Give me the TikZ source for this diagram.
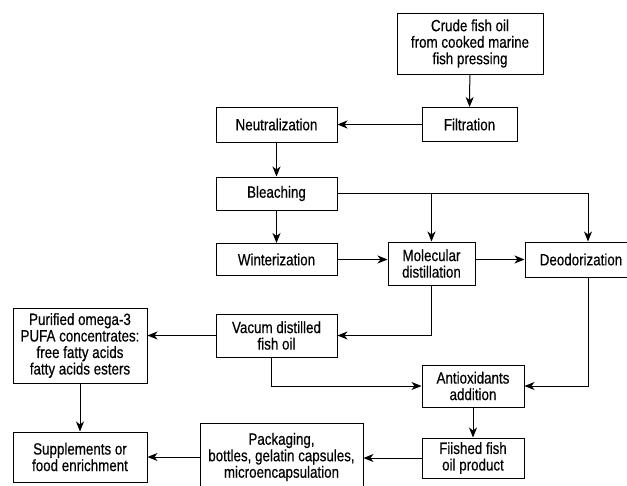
\documentclass[tikz,border=0pt]{standalone}
\usepackage{fontspec}
\setmainfont[FakeStretch=0.82,FakeBold=0.4]{Liberation Sans}
\usetikzlibrary{arrows.meta,positioning}

\begin{document}
\begin{tikzpicture}[
  x=1pt,y=-1pt,
  line width=1pt,
  >={Stealth[length=10pt,width=8pt,inset=3pt]},
  mybox/.style={
    draw,
    rectangle,
    align=center,
    inner sep=1pt,
    font=\fontsize{16.3}{16.5}\selectfont
    }
]
\useasboundingbox (0,0) rectangle (627,485);

\node[mybox,minimum width=146pt,minimum height=61pt] (crude) at (470,43.5)
  {Crude fish oil\\from cooked marine\\fish pressing};
\node[mybox,minimum width=95pt,minimum height=34pt] (filt) at (469.5,124.5) {Filtration};
\node[mybox,minimum width=121pt,minimum height=35pt] (neut) at (276.5,124.5) {Neutralization};
\node[mybox,minimum width=121pt,minimum height=33pt] (bleach) at (276.5,193.5) {Bleaching};
\node[mybox,minimum width=121pt,minimum height=32pt] (winter) at (276.5,259.5) {Winterization};
\node[mybox,minimum width=87pt,minimum height=43pt] (molec) at (431.5,263.5) {Molecular\\distillation};
\node[mybox,minimum width=112pt,minimum height=35pt] (deodor) at (581,259.5) {Deodorization};
\node[mybox,minimum width=121pt,minimum height=43pt] (vacum) at (276.5,335.5) {Vacum distilled\\fish oil};
\node[mybox,minimum width=134pt,minimum height=75pt] (purif) at (80,345.5)
  {Purified omega-3\\PUFA concentrates:\\free fatty acids\\fatty acids esters};
\node[mybox,minimum width=134pt,minimum height=50pt] (suppl) at (80,457) {Supplements or\\food enrichment};
\node[mybox,minimum width=102pt,minimum height=42pt] (antiox) at (473,386) {Antioxidants\\addition};
\node[mybox,minimum width=102pt,minimum height=40pt] (fiished) at (473,458) {Fiished fish\\oil product};
\node[mybox,minimum width=163pt,minimum height=68pt] (pack) at (281.5,457)
  {Packaging,\\bottles, gelatin capsules,\\microencapsulation};

\coordinate (dtop) at ([xshift=7pt]deodor.north);
\coordinate (dbot) at ([xshift=7pt]deodor.south);

\draw[->] (crude) -- (filt);
\draw[->] (filt) -- (neut);
\draw[->] (neut) -- (bleach);
\draw[->] (bleach) -- (winter);
\draw[->] (bleach.east) -| (dtop);
\draw[->] (bleach.east -| molec.north) -- (molec.north);
\draw[->] (winter.east) -- (winter.east -| molec.west);
\draw[->] (molec.east |- deodor.west) -- (deodor.west);
\draw[->] (molec.south) |- (vacum.east);
\draw[->] (vacum.west) -- (vacum.west -| purif.east);
\draw[->] (purif) -- (suppl);
\draw[->] ([xshift=-5pt]vacum.south) |- (antiox.west);
\draw[->] (dbot) |- (antiox.east);
\draw[->] (antiox) -- (fiished);
\draw[->] (fiished.west) -- (fiished.west -| pack.east);
\draw[->] (pack.west) -- (pack.west -| suppl.east);

\end{tikzpicture}
\end{document}
